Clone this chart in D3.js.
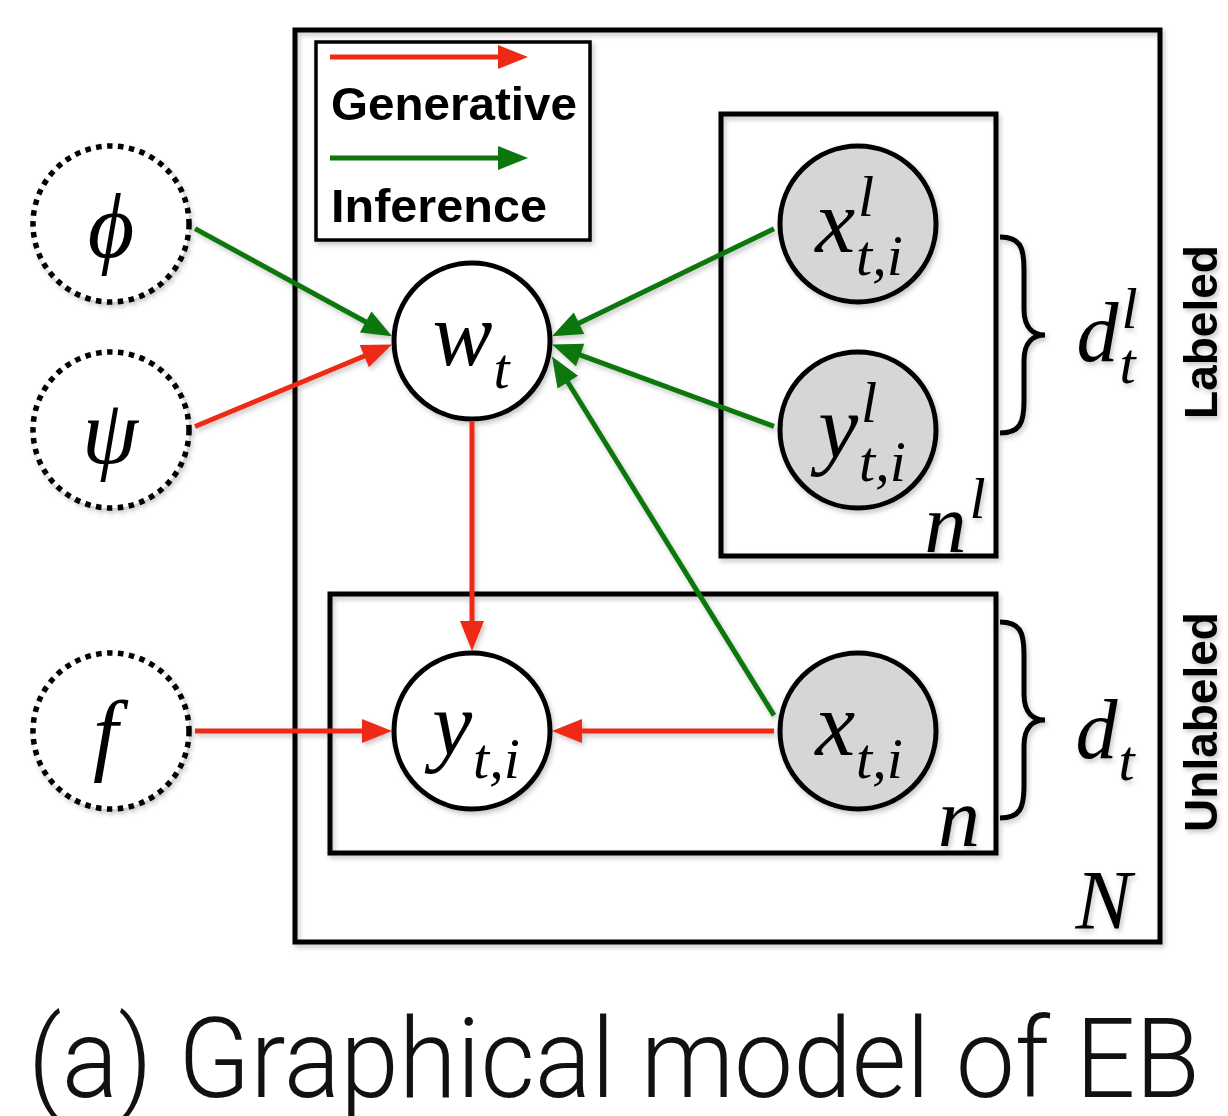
<!DOCTYPE html>
<html>
<head>
<meta charset="utf-8">
<script src="https://cdn.jsdelivr.net/npm/d3@7"></script>
<style>
  body { margin: 0; background: #fff; }
  svg { display: block; }
</style>
</head>
<body>
<div id="chart"></div>
<script>
// Grid slots of the diagram
const columns = ["prior", "w", "obs"];
const rows = ["top", "mid", "low", "bottom"];

// Nodes: base symbol, superscript, subscript
const nodes = [
    { id: "phi", base: "ϕ", sup: "", sub: "", col: "prior", row: "top", kind: "hyper" },
    { id: "psi", base: "ψ", sup: "", sub: "", col: "prior", row: "low", kind: "hyper" },
    { id: "f", base: "f", sup: "", sub: "", col: "prior", row: "bottom", kind: "hyper" },
    { id: "w", base: "w", sup: "", sub: "t", col: "w", row: "mid", kind: "latent" },
    { id: "y", base: "y", sup: "", sub: "t,i", col: "w", row: "bottom", kind: "latent" },
    { id: "xl", base: "x", sup: "l", sub: "t,i", col: "obs", row: "top", kind: "observed" },
    { id: "yl", base: "y", sup: "l", sub: "t,i", col: "obs", row: "low", kind: "observed" },
    { id: "x", base: "x", sup: "", sub: "t,i", col: "obs", row: "bottom", kind: "observed" }
];

const edges = [
    { from: "phi", to: "w", type: "Inference" },
    { from: "psi", to: "w", type: "Generative" },
    { from: "xl", to: "w", type: "Inference" },
    { from: "yl", to: "w", type: "Inference" },
    { from: "x", to: "w", type: "Inference" },
    { from: "w", to: "y", type: "Generative" },
    { from: "f", to: "y", type: "Generative" },
    { from: "x", to: "y", type: "Generative" }
];

const legendItems = ["Generative", "Inference"];
const caption = "(a) Graphical model of EB";

// Layout
const width = 1228;
const height = 1116;
const r = 78;

const xPos = d3.scaleOrdinal().domain(columns).range([111, 472, 858]);
const yPos = d3.scaleOrdinal().domain(rows).range([224, 341, 430, 731]);
const color = d3.scaleOrdinal().domain(legendItems).range(["#ee2a12", "#0a760a"]);

const svg = d3.select("#chart")
    .append("svg")
    .attr("width", width)
    .attr("height", height);

const defs = svg.append("defs");
defs.append("filter")
    .attr("id", "shadow")
    .attr("x", "-10%").attr("y", "-10%")
    .attr("width", "120%").attr("height", "120%")
    .append("feDropShadow")
    .attr("dx", 2).attr("dy", 3)
    .attr("stdDeviation", 2.5)
    .attr("flood-color", "#000")
    .attr("flood-opacity", 0.22);

const g = svg.append("g").attr("filter", "url(#shadow)");

const mathFont = "'Liberation Serif', 'DejaVu Serif', serif";
const boldFont = "'Liberation Sans', Arial, sans-serif";

// Plates
const plates = [
    { x0: 295, y0: 30, x1: 1160, y1: 942 },
    { x0: 721, y0: 114, x1: 996, y1: 556 },
    { x0: 330, y0: 594, x1: 996, y1: 853 }
];
g.selectAll(".plate")
    .data(plates)
    .enter()
    .append("rect")
    .attr("class", "plate")
    .attr("x", d => d.x0)
    .attr("y", d => d.y0)
    .attr("width", d => d.x1 - d.x0)
    .attr("height", d => d.y1 - d.y0)
    .attr("fill", "none")
    .attr("stroke", "#000")
    .attr("stroke-width", 5);

// Legend
const legend = g.append("g");
legend.append("rect")
    .attr("x", 316).attr("y", 42)
    .attr("width", 274).attr("height", 198)
    .attr("fill", "#fff")
    .attr("stroke", "#000")
    .attr("stroke-width", 3.5);

function arrowHead(sel, x, y, angle, fill) {
    // tip at (x, y), pointing along angle
    const len = 30, half = 12;
    const ca = Math.cos(angle), sa = Math.sin(angle);
    const bx = x - len * ca, by = y - len * sa;
    const pts = [
        [x, y],
        [bx - half * sa, by + half * ca],
        [bx + half * sa, by - half * ca]
    ];
    sel.append("path")
        .attr("d", "M" + pts.map(p => p.join(",")).join("L") + "Z")
        .attr("fill", fill);
}

legendItems.forEach((name, i) => {
    const ly = 57 + i * 101;
    legend.append("line")
        .attr("x1", 330).attr("y1", ly)
        .attr("x2", 505).attr("y2", ly)
        .attr("stroke", color(name))
        .attr("stroke-width", 5);
    arrowHead(legend, 528, ly, 0, color(name));
    legend.append("text")
        .attr("x", 331)
        .attr("y", 120 + i * 102)
        .attr("font-family", boldFont)
        .attr("font-weight", "bold")
        .attr("font-size", 46)
        .attr("textLength", i === 0 ? 246 : 216)
        .attr("lengthAdjust", "spacingAndGlyphs")
        .text(name);
});

// Edges: from side port of source to side port of target
const byId = new Map(nodes.map(d => [d.id, d]));
function ports(e) {
    const s = byId.get(e.from), t = byId.get(e.to);
    const sx = xPos(s.col), sy = yPos(s.row), tx = xPos(t.col), ty = yPos(t.row);
    if (sx === tx) {
        const sg = Math.sign(ty - sy);
        return [sx, sy + sg * (r + 3), tx, ty - sg * (r + 2)];
    }
    const sg = Math.sign(tx - sx);
    return [sx + sg * (r + 6), sy + (ty - sy) * 0.04, tx - sg * (r + 2), ty + (sy - ty) * 0.04];
}

const edgeG = g.append("g");
edges.forEach(e => {
    const [x1, y1, x2, y2] = ports(e);
    const ang = Math.atan2(y2 - y1, x2 - x1);
    edgeG.append("line")
        .attr("x1", x1).attr("y1", y1)
        .attr("x2", x2 - 24 * Math.cos(ang)).attr("y2", y2 - 24 * Math.sin(ang))
        .attr("stroke", color(e.type))
        .attr("stroke-width", 5);
    arrowHead(edgeG, x2, y2, ang, color(e.type));
});

// Nodes
const nodeG = g.selectAll(".node")
    .data(nodes)
    .enter()
    .append("g")
    .attr("class", "node")
    .attr("transform", d => `translate(${xPos(d.col)},${yPos(d.row)})`);

nodeG.append("circle")
    .attr("r", r)
    .attr("fill", d => d.kind === "observed" ? "#d6d6d6" : "#fff")
    .attr("stroke", "#000")
    .attr("stroke-width", d => d.kind === "hyper" ? 5.5 : 5)
    .attr("stroke-dasharray", d => d.kind === "hyper" ? "5.5 5.5" : null);

// math label with optional super/subscript, centred by bbox
function mathLabel(sel, base, sup, sub, size) {
    const small = 58;
    const lg = sel.append("g");
    const bt = lg.append("text")
        .attr("font-family", mathFont)
        .attr("font-style", "italic")
        .attr("font-size", size)
        .text(base);
    const bw = bt.node().getComputedTextLength();
    if (sup) {
        lg.append("text")
            .attr("x", bw + 3).attr("y", -size * 0.4)
            .attr("font-family", mathFont).attr("font-style", "italic")
            .attr("font-size", small)
            .text(sup);
    }
    if (sub) {
        lg.append("text")
            .attr("x", bw + 1).attr("y", size * 0.26)
            .attr("font-family", mathFont).attr("font-style", "italic")
            .attr("font-size", small)
            .text(sub);
    }
    return lg;
}

nodeG.each(function (d) {
    const lg = mathLabel(d3.select(this), d.base, d.sup, d.sub, 90);
    const bb = lg.node().getBBox();
    lg.attr("transform", `translate(${-bb.x - bb.width / 2},${-bb.y - bb.height / 2 + 2})`);
});

// Braces
function brace(x0, ya, yb) {
    const ym = (ya + yb) / 2;
    return `M${x0},${ya} C${x0 + 20},${ya} ${x0 + 24},${ya + 10} ${x0 + 24},${ya + 32}` +
        ` L${x0 + 24},${ym - 26} C${x0 + 24},${ym - 6} ${x0 + 34},${ym} ${x0 + 45},${ym}` +
        ` C${x0 + 34},${ym} ${x0 + 24},${ym + 6} ${x0 + 24},${ym + 26}` +
        ` L${x0 + 24},${yb - 32} C${x0 + 24},${yb - 10} ${x0 + 20},${yb} ${x0},${yb}`;
}
const braces = [[1000, 237, 433], [1000, 622, 818]];
g.selectAll(".brace")
    .data(braces)
    .enter()
    .append("path")
    .attr("class", "brace")
    .attr("d", d => brace(d[0], d[1], d[2]))
    .attr("fill", "none")
    .attr("stroke", "#000")
    .attr("stroke-width", 5);

// Plate / brace labels
const sideLabels = [
    { base: "d", sup: "l", sub: "t", cx: 1107, cy: 336 },
    { base: "d", sup: "", sub: "t", cx: 1106, cy: 738 },
    { base: "n", sup: "l", sub: "", cx: 955, cy: 518 },
    { base: "n", sup: "", sub: "", cx: 959, cy: 817 },
    { base: "N", sup: "", sub: "", cx: 1105, cy: 900 }
];
sideLabels.forEach(d => {
    const lg = mathLabel(g, d.base, d.sup, d.sub, 84);
    const bb = lg.node().getBBox();
    lg.attr("transform", `translate(${d.cx - bb.x - bb.width / 2},${d.cy - bb.y - bb.height / 2})`);
});

// Vertical group labels
const groupLabels = [{ name: "Labeled", cy: 332 }, { name: "Unlabeled", cy: 722 }];
g.selectAll(".grp")
    .data(groupLabels)
    .enter()
    .append("text")
    .attr("class", "grp")
    .attr("transform", d => `translate(1217,${d.cy}) rotate(-90)`)
    .attr("text-anchor", "middle")
    .attr("font-family", boldFont)
    .attr("font-weight", "bold")
    .attr("font-size", 46)
    .text(d => d.name);

// Caption
svg.append("text")
    .attr("x", 614)
    .attr("y", 1097)
    .attr("text-anchor", "middle")
    .attr("font-family", "Roboto, 'DejaVu Sans', sans-serif")
    .attr("font-weight", 300)
    .attr("font-size", 112)
    .attr("fill", "#111")
    .attr("textLength", 1172)
    .attr("lengthAdjust", "spacingAndGlyphs")
    .text(caption);
</script>
</body>
</html>
